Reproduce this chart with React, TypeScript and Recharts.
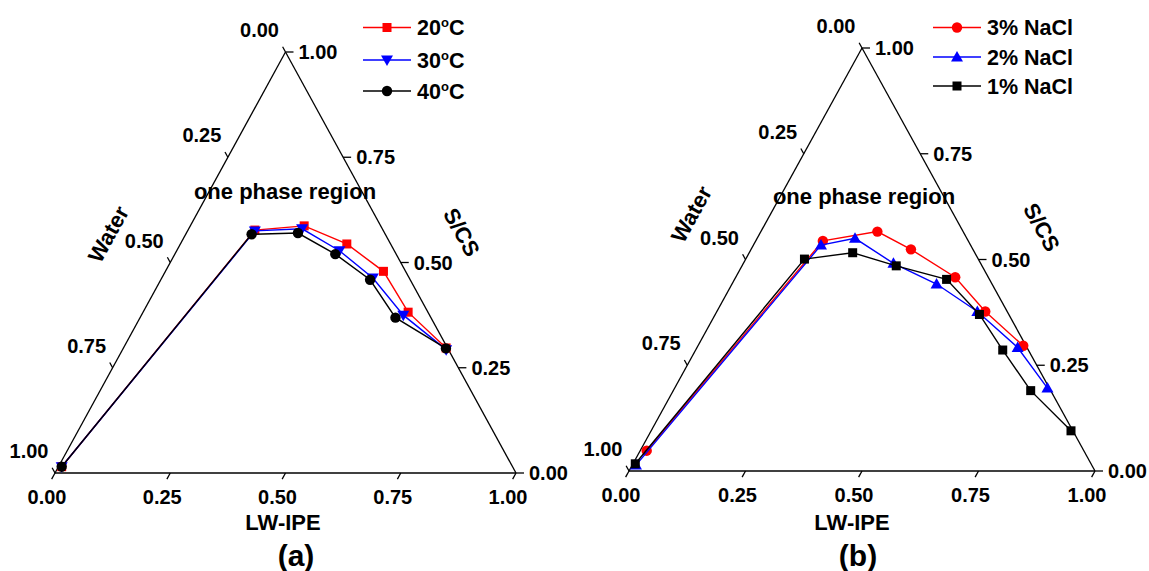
import { ReferenceLine, Scatter, ScatterChart, XAxis, YAxis } from 'recharts'

const FONT = '"Liberation Sans", Arial, Helvetica, sans-serif'

const tickValues = [0, 0.25, 0.5, 0.75, 1]
const tickLabels = ['0.00', '0.25', '0.50', '0.75', '1.00']

// panel (a): LW-IPE and S/CS mass fractions (water is the rest)
const lwipe20 = [0.007, 0.145, 0.247, 0.361, 0.473, 0.575, 0.7]
const scs20 = [0.015, 0.577, 0.587, 0.544, 0.479, 0.382, 0.297]
const lwipe30 = [0.007, 0.146, 0.246, 0.353, 0.458, 0.568, 0.702]
const scs30 = [0.015, 0.575, 0.58, 0.528, 0.463, 0.375, 0.293]
const lwipe40 = [0.007, 0.143, 0.242, 0.348, 0.454, 0.554, 0.7]
const scs40 = [0.015, 0.567, 0.57, 0.52, 0.459, 0.369, 0.296]

// panel (b)
const lwipeNa3 = [0.014, 0.144, 0.25, 0.343, 0.471, 0.576, 0.698]
const scsNa3 = [0.048, 0.544, 0.566, 0.524, 0.458, 0.377, 0.296]
const lwipeNa2 = [0.008, 0.145, 0.21, 0.322, 0.439, 0.559, 0.688, 0.8]
const scsNa2 = [0.014, 0.534, 0.55, 0.491, 0.442, 0.377, 0.292, 0.196]
const lwipeNa1 = [0.005, 0.126, 0.222, 0.331, 0.455, 0.567, 0.659, 0.767, 0.901]
const scsNa1 = [0.017, 0.501, 0.516, 0.485, 0.453, 0.37, 0.286, 0.19, 0.095]

// ternary -> cartesian (bottom = LW-IPE, right = S/CS, left = water)
const tern = (lw: number[], scs: number[]) => lw.map((a, i) => ({ x: a + scs[i] / 2, y: scs[i] }))

type Kind = 'square' | 'circle' | 'triDown' | 'triUp'

function Marker({ kind, cx, cy, color }: { kind: Kind; cx: number; cy: number; color: string }) {
  if (kind === 'square') return <rect x={cx - 4.5} y={cy - 4.5} width={9} height={9} fill={color} />
  if (kind === 'circle') return <circle cx={cx} cy={cy} r={5.2} fill={color} />
  if (kind === 'triDown')
    return <polygon points={`${cx - 6},${cy - 4.5} ${cx + 6},${cy - 4.5} ${cx},${cy + 6}`} fill={color} />
  return <polygon points={`${cx - 6},${cy + 4.5} ${cx + 6},${cy + 4.5} ${cx},${cy - 6}`} fill={color} />
}

interface Series {
  name: string
  color: string
  kind: Kind
  data: { x: number; y: number }[]
}

const seriesA: Series[] = [
  { name: '20', color: '#ff0000', kind: 'square', data: tern(lwipe20, scs20) },
  { name: '30', color: '#0000ff', kind: 'triDown', data: tern(lwipe30, scs30) },
  { name: '40', color: '#000000', kind: 'circle', data: tern(lwipe40, scs40) },
]

const seriesB: Series[] = [
  { name: '3% NaCl', color: '#ff0000', kind: 'circle', data: tern(lwipeNa3, scsNa3) },
  { name: '2% NaCl', color: '#0000ff', kind: 'triUp', data: tern(lwipeNa2, scsNa2) },
  { name: '1% NaCl', color: '#000000', kind: 'square', data: tern(lwipeNa1, scsNa1) },
]

const axisPoints = [
  ...tickValues.map((t, i) => ({ x: t, y: 0, label: tickLabels[i], side: 'bottom' })),
  ...tickValues.map((t, i) => ({ x: 1 - t / 2, y: t, label: tickLabels[i], side: 'right' })),
  ...tickValues.map((t, i) => ({ x: (1 - t) / 2, y: 1 - t, label: tickLabels[i], side: 'left' })),
]

interface PanelProps {
  left: number
  width: number
  margin: { top: number; right: number; bottom: number; left: number }
  series: Series[]
}

function Panel({ left, width, margin, series }: PanelProps) {
  const plotW = width - margin.left - margin.right
  const plotH = 571 - margin.top - margin.bottom
  const len = Math.hypot(plotW / 2, plotH)
  const ux = -plotW / 2 / len
  const uy = plotH / len

  const axisShape = (p: any) => {
    const { cx, cy, payload } = p
    const textProps = { fontFamily: FONT, fontWeight: 700, fontSize: 20, fill: '#000' }
    if (payload.side === 'bottom') {
      return (
        <g>
          <line x1={cx} y1={cy} x2={cx + ux * 7} y2={cy + uy * 7} stroke="#000" strokeWidth={1.3} />
          <text x={cx - 8} y={cy + 31} textAnchor="middle" {...textProps}>{payload.label}</text>
        </g>
      )
    }
    if (payload.side === 'right') {
      return (
        <g>
          <line x1={cx} y1={cy} x2={cx + 8} y2={cy} stroke="#000" strokeWidth={1.3} />
          <text x={cx + 13} y={cy + 7} textAnchor="start" {...textProps}>{payload.label}</text>
        </g>
      )
    }
    return (
      <g>
        <line x1={cx} y1={cy} x2={cx + ux * 6} y2={cy - uy * 6} stroke="#000" strokeWidth={1.3} />
        <text x={cx - 26} y={cy - 15} textAnchor="middle" {...textProps}>{payload.label}</text>
      </g>
    )
  }

  return (
    <div style={{ position: 'absolute', left, top: 0 }}>
      <ScatterChart width={width} height={571} margin={margin}>
        <XAxis type="number" dataKey="x" domain={[0, 1]} hide />
        <YAxis type="number" dataKey="y" domain={[0, 1]} hide />
        <ReferenceLine segment={[{ x: 0, y: 0 }, { x: 1, y: 0 }]} stroke="#000" strokeWidth={1.3} ifOverflow="visible" />
        <ReferenceLine segment={[{ x: 1, y: 0 }, { x: 0.5, y: 1 }]} stroke="#000" strokeWidth={1.3} ifOverflow="visible" />
        <ReferenceLine segment={[{ x: 0.5, y: 1 }, { x: 0, y: 0 }]} stroke="#000" strokeWidth={1.3} ifOverflow="visible" />
        <Scatter data={axisPoints} shape={axisShape} isAnimationActive={false} legendType="none" />
        {series.map((s) => (
          <Scatter
            key={s.name}
            data={s.data}
            line={{ stroke: s.color, strokeWidth: 1.4 }}
            shape={(p: any) => <Marker kind={s.kind} cx={p.cx} cy={p.cy} color={s.color} />}
            isAnimationActive={false}
          />
        ))}
      </ScatterChart>
    </div>
  )
}

function LegendRow({ x, y, s, children }: { x: number; y: number; s: Series; children: any }) {
  return (
    <g>
      <line x1={x} y1={y} x2={x + 48} y2={y} stroke={s.color} strokeWidth={1.4} />
      <Marker kind={s.kind} cx={x + 24} cy={y} color={s.color} />
      <text x={x + 54} y={y + 7.5} fontFamily={FONT} fontWeight={700} fontSize={21.5}>
        {children}
      </text>
    </g>
  )
}

const bold = { fontFamily: FONT, fontWeight: 700, fill: '#000' } as const

export default function App() {
  return (
    <div style={{ position: 'absolute', left: 0, top: 0, width: 1149, height: 571, background: '#fff' }}>
      <Panel left={0} width={574} margin={{ top: 52, right: 58, bottom: 98, left: 55 }} series={seriesA} />
      <Panel left={574} width={575} margin={{ top: 48, right: 54, bottom: 100, left: 55 }} series={seriesB} />
      <svg width={1149} height={571} style={{ position: 'absolute', left: 0, top: 0, pointerEvents: 'none' }}>
        {seriesA.map((s, i) => (
          <LegendRow key={s.name} x={363} y={[27.5, 60, 91][i]} s={s}>
            <tspan>{s.name}</tspan>
            <tspan dy={-8} fontSize={13}>o</tspan>
            <tspan dy={8}>C</tspan>
          </LegendRow>
        ))}
        {seriesB.map((s, i) => (
          <LegendRow key={s.name} x={933} y={[27.5, 57, 86][i]} s={s}>
            {s.name}
          </LegendRow>
        ))}

        <text x={285} y={199} textAnchor="middle" fontSize={22} {...bold}>one phase region</text>
        <text x={864} y={204} textAnchor="middle" fontSize={22} {...bold}>one phase region</text>

        <text x={283} y={530} textAnchor="middle" fontSize={22} {...bold}>LW-IPE</text>
        <text x={852} y={530} textAnchor="middle" fontSize={22} {...bold}>LW-IPE</text>

        <text x={0} y={8} textAnchor="middle" fontSize={22} {...bold} transform="translate(108,234) rotate(-61)">Water</text>
        <text x={0} y={8} textAnchor="middle" fontSize={22} {...bold} transform="translate(691,214) rotate(-61)">Water</text>
        <text x={0} y={8} textAnchor="middle" fontSize={22} {...bold} transform="translate(462,232) rotate(61)">S/CS</text>
        <text x={0} y={8} textAnchor="middle" fontSize={22} {...bold} transform="translate(1042,227) rotate(61)">S/CS</text>

        <text x={296} y={566} textAnchor="middle" fontSize={30} {...bold}>(a)</text>
        <text x={858} y={566} textAnchor="middle" fontSize={30} {...bold}>(b)</text>
      </svg>
    </div>
  )
}
